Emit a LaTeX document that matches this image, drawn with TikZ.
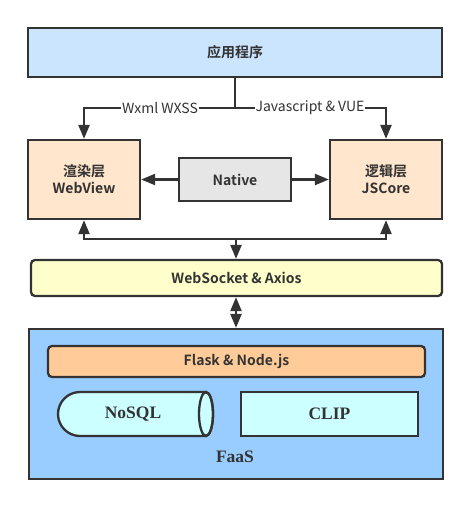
\documentclass[tikz,border=0pt]{standalone}
\usepackage{fontspec}
\setmainfont{Liberation Serif}
\newfontfamily\cjk{Noto Sans CJK SC}
\newfontfamily\cjkb{Noto Sans CJK SC Bold}
\usetikzlibrary{arrows.meta}
\definecolor{ln}{HTML}{333333}
\definecolor{topc}{HTML}{CCE5FF}
\definecolor{peach}{HTML}{FFE6CC}
\definecolor{grayc}{HTML}{E6E6E6}
\definecolor{yelc}{HTML}{FFFFCC}
\definecolor{faasc}{HTML}{99CCFF}
\definecolor{flaskc}{HTML}{FFCC99}
\definecolor{cyanc}{HTML}{CCFFFF}
\tikzset{
  box/.style={draw=ln, line width=2.3pt, text=ln, inner sep=0pt, align=center, font=\cjkb\fontsize{14pt}{17pt}\selectfont},
  tip/.tip={Triangle[length=14pt,width=11pt]},
  conn/.style={draw=ln, line width=2.3pt, -tip},
  lab/.style={fill=white, inner sep=1pt, text=ln, font=\cjk\fontsize{14pt}{16pt}\selectfont},
  serifb/.style={text=ln, font=\bfseries\fontsize{17.5pt}{20pt}\selectfont}
}
\begin{document}
\begin{tikzpicture}[x=1pt,y=-1pt]
\useasboundingbox (0,0) rectangle (473,508);
\node[box, fill=topc, minimum width=414pt, minimum height=49pt] (app) at (235,52.5) {应用程序};
\node[box, fill=peach, minimum width=112pt, minimum height=79pt] (wv) at (84,179.5) {渲染层\\WebView};
\node[box, fill=peach, minimum width=112pt, minimum height=79pt] (js) at (386,179.5) {逻辑层\\JSCore};
\node[box, fill=grayc, minimum width=112pt, minimum height=43pt] (nat) at (235,179.5) {Native};
\node[box, fill=yelc, rounded corners=4pt, minimum width=411pt, minimum height=36pt] (ws) at (236.5,278) {WebSocket \& Axios};
\node[box, fill=faasc, minimum width=414pt, minimum height=150pt] (faas) at (236,404) {};
\node[box, fill=flaskc, rounded corners=4pt, minimum width=377pt, minimum height=31pt] (fl) at (236.5,361.5) {Flask \& Node.js};
% NoSQL cylinder
\filldraw[draw=ln, line width=2.3pt, fill=cyanc] (206,392) -- (80,392) arc[start angle=-90, end angle=-270, radius=22] -- (206,436) arc[start angle=90, end angle=-90, x radius=7, y radius=22] -- cycle;
\draw[draw=ln, line width=2.3pt] (206,414) ellipse[x radius=7, y radius=22];
\node[serifb] (nosql) at (133,414) {NoSQL};
\node[box, fill=cyanc, minimum width=177pt, minimum height=44pt, serifb] (clip) at (329.5,414) {CLIP};
\node[serifb] (faast) at (235,457) {FaaS};
% top branching
\coordinate (j1) at (235,108);
\coordinate (l1) at (84,108);
\coordinate (r1) at (386,108);
\draw[draw=ln, line width=2.3pt] (app.south -| j1) -- (j1);
\draw[conn] (j1) -- (l1) -- (wv.north);
\draw[conn] (j1) -- (r1) -- (js.north);
\node[lab] (lw) at (160,108) {Wxml WXSS};
\node[lab] (lj) at (310,108) {Javascript \& VUE};
% native
\draw[conn] (nat.west) -- (wv.east);
\draw[conn] (nat.east) -- (js.west);
% bottom branching
\coordinate (j2) at (236,239);
\coordinate (l2) at (84,239);
\coordinate (r2) at (386,239);
\draw[conn] (j2) -- (l2) -- (wv.south);
\draw[conn] (j2) -- (r2) -- (js.south);
\draw[conn] (j2) -- (ws.north -| j2);
\draw[draw=ln, line width=2.3pt, tip-tip] (ws.south -| j2) -- (faas.north -| j2);
\end{tikzpicture}
\end{document}
